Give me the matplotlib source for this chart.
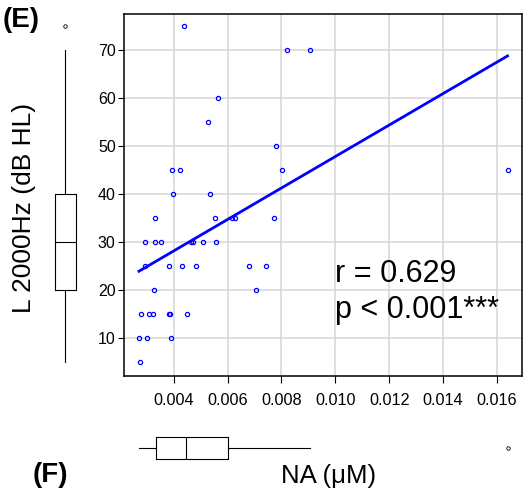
import numpy as np
import matplotlib
matplotlib.use('Agg')
import matplotlib.pyplot as plt

plt.rcParams['font.family'] = ['Liberation Sans', 'DejaVu Sans']

# NA (uM) and L 2000Hz (dB HL), grouped by hearing level
na = [0.00439,
      0.00822, 0.00906,
      0.00565,
      0.00529,
      0.00780,
      0.00392, 0.00422, 0.00802, 0.01639,
      0.00398, 0.00536,
      0.00329, 0.00554, 0.00616, 0.00629, 0.00772,
      0.00294, 0.00329, 0.00354, 0.00465, 0.00473, 0.00510, 0.00556,
      0.00294, 0.00384, 0.00432, 0.00483, 0.00679, 0.00742,
      0.00326, 0.00705,
      0.00280, 0.00307, 0.00322, 0.00382, 0.00388, 0.00450,
      0.00271, 0.00302, 0.00390,
      0.00275]
hl = [75,
      70, 70,
      60,
      55,
      50,
      45, 45, 45, 45,
      40, 40,
      35, 35, 35, 35, 35,
      30, 30, 30, 30, 30, 30, 30,
      25, 25, 25, 25, 25, 25,
      20, 20,
      15, 15, 15, 15, 15, 15,
      10, 10, 10,
      5]

xticks = [0.004, 0.006, 0.008, 0.010, 0.012, 0.014, 0.016]
yticks = [10, 20, 30, 40, 50, 60, 70]

na = np.array(na)
hl = np.array(hl)

W, H = 528, 488
fig = plt.figure(figsize=(W / 100, H / 100), dpi=100)

def px_axes(x0, y0, x1, y1):
    # axes from pixel box (top-left origin)
    return fig.add_axes([x0 / W, 1 - y1 / H, (x1 - x0) / W, (y1 - y0) / H])

ax = px_axes(124, 14, 522, 376)
ax.set_xlim(0.002156, 0.016926)
ax.set_ylim(2.15, 77.6)

ax.grid(True, color='#d6d6d6', linewidth=1.1)
ax.set_axisbelow(True)
ax.set_xticks(xticks)
ax.set_xticklabels(['%.3f' % t for t in xticks])
ax.set_yticks(yticks)
ax.tick_params(axis='x', length=5, width=0.8, pad=7, labelsize=11.7)
ax.tick_params(axis='y', length=4, width=0.8, pad=2, labelsize=11.5)
for s in ax.spines.values():
    s.set_linewidth(1.1)

ax.plot(na, hl, 'o', markersize=3, markerfacecolor='none',
        markeredgecolor='blue', markeredgewidth=0.9, zorder=3)

slope, icpt = np.polyfit(na, hl, 1)
xs = np.array([na.min(), na.max()])
ax.plot(xs, icpt + slope * xs, color='blue', linewidth=2.0, zorder=4)

fig.text(335 / W, 1 - 281.7 / H, 'r = 0.629', fontsize=22, va='baseline')
fig.text(335 / W, 1 - 318 / H, 'p < 0.001***', fontsize=22, va='baseline')

# marginal boxplots
box_style = dict(showcaps=False, patch_artist=False,
                 boxprops=dict(color='black', linewidth=0.8),
                 whiskerprops=dict(color='black', linewidth=0.8),
                 medianprops=dict(color='black', linewidth=0.8),
                 flierprops=dict(marker='o', markersize=2.5, markerfacecolor='none',
                                 markeredgecolor='black', markeredgewidth=0.6))

axl = px_axes(45, 14, 85, 376)
axl.boxplot(hl, positions=[0], widths=1.05, **box_style)
axl.set_xlim(-1, 1)
axl.set_ylim(ax.get_ylim())
axl.axis('off')

axb = px_axes(124, 428, 522, 468)
axb.boxplot(na, positions=[0], widths=1.1, orientation='horizontal', **box_style)
axb.set_ylim(-1, 1)
axb.set_xlim(ax.get_xlim())
axb.axis('off')

fig.text(24 / W, 1 - 208 / H, 'L 2000Hz (dB HL)', rotation=90,
         ha='center', va='center', fontsize=19)
fig.text(329 / W, 1 - 483 / H, 'NA (μM)', ha='center', va='baseline', fontsize=18.5)

fig.text(3 / W, 1 - 27 / H, '(E)', fontsize=20, fontweight='bold', va='baseline')
fig.text(33 / W, 1 - 482 / H, '(F)', fontsize=20, fontweight='bold', va='baseline')

fig.savefig('out.png', dpi=100)
